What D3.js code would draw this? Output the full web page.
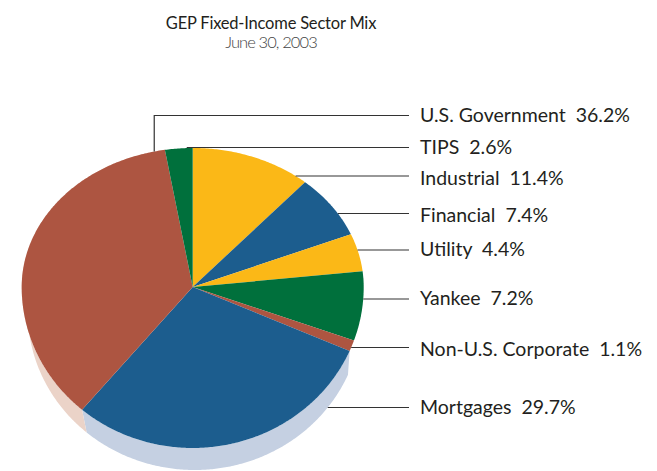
<!DOCTYPE html>
<html>
<head>
<meta charset="utf-8">
<script src="https://cdn.jsdelivr.net/npm/d3@7"></script>
<style>
  body { margin: 0; background: #fff; }
  text { white-space: pre; }
</style>
</head>
<body>
<div id="chart"></div>
<script>
// sector mix, clockwise from 12 o'clock
const sectors = ["Industrial", "Financial", "Utility", "Yankee", "Non-U.S. Corporate", "Mortgages", "U.S. Government", "TIPS"];
const shares  = [11.4, 7.4, 4.4, 7.2, 1.1, 29.7, 36.2, 2.6];
const topColors  = ["#fbb817", "#1c5d8e", "#fbb817", "#00703c", "#ad5541", "#1c5d8e", "#ad5541", "#00703c"];
const sideColors = ["#fde3a3", "#c5d0e2", "#fde3a3", "#b3d4c4", "#ebd3c8", "#c5d0e2", "#ebd3c8", "#b3d4c4"];
// legend order and leader line rows
const legendOrder = ["U.S. Government", "TIPS", "Industrial", "Financial", "Utility", "Yankee", "Non-U.S. Corporate", "Mortgages"];
const lineYs = [115.5, 147.5, 176, 213.5, 250, 299, 347.5, 407.5];
const textYs = [122, 153.5, 185, 221.5, 255.5, 304.5, 356, 413.5];

const width = 657, height = 471;
const svg = d3.select("#chart").append("svg")
    .attr("width", width)
    .attr("height", height);

// tilted pie: apex and two half radii (near half drawn taller)
let pie = {cx: 192.7, cy: 287, rx: 171, ryT: 139, ryB: 161};
let base = {cx: 194.7, cy: 312, rx: 167, ryT: 139, ryB: 158};

function pt(e, a) {
  let c = Math.cos(a);
  return [e.cx + e.rx * Math.sin(a), e.cy - c * (c > 0 ? e.ryT : e.ryB)];
}

function arcPts(e, a0, a1) {
  let n = Math.max(2, Math.ceil(Math.abs(a1 - a0) / 0.01));
  return d3.range(n + 1).map(i => pt(e, a0 + (a1 - a0) * i / n));
}

let arcs = d3.pie().sort(null).value(d => d)(shares);
let slices = arcs.map((d, i) => ({name: sectors[i], a0: d.startAngle, a1: d.endAngle, i: i}));

// side band, only where it shows
let sideSet = ["Mortgages", "U.S. Government"];
svg.append("g").selectAll("path")
  .data(slices.filter(d => sideSet.includes(d.name)))
  .join("path")
    .attr("fill", d => sideColors[d.i])
    .attr("d", d => {
      let p = arcPts(pie, d.a0, d.a1).concat(arcPts(base, d.a1, d.a0));
      return "M" + p.map(q => q.join(",")).join("L") + "Z";
    });

svg.append("g").selectAll("path")
  .data(slices)
  .join("path")
    .attr("fill", d => topColors[d.i])
    .attr("d", d => {
      let p = [[pie.cx, pie.cy]].concat(arcPts(pie, d.a0, d.a1));
      return "M" + p.map(q => q.join(",")).join("L") + "Z";
    });

// x of an ellipse's right edge at a given y
function rightEdge(e, y) {
  let dy = y - e.cy;
  let ry = dy < 0 ? e.ryT : e.ryB;
  return e.cx + e.rx * Math.sqrt(Math.max(0, 1 - (dy / ry) * (dy / ry)));
}

let lineEnd = 409;
let textX = 420;
let deg = Math.PI / 180;

let leaders = legendOrder.map((name, k) => {
  let y = lineYs[k];
  if (name === "U.S. Government") {
    let p = pt(pie, 347 * deg);
    return `M${p[0]},${p[1]}V${y}H${lineEnd}`;
  }
  if (name === "TIPS") {
    let p = pt(pie, 358 * deg);
    return `M${p[0]},${y}H${lineEnd}`;
  }
  let x0 = name === "Mortgages" ? rightEdge(base, y) : rightEdge(pie, y);
  return `M${x0},${y}H${lineEnd}`;
});

svg.append("g").selectAll("path")
  .data(leaders)
  .join("path")
    .attr("d", d => d)
    .attr("fill", "none")
    .attr("stroke", "#333")
    .attr("stroke-width", 1.2);

svg.append("g").selectAll("text")
  .data(legendOrder)
  .join("text")
    .attr("x", textX)
    .attr("y", (d, k) => textYs[k])
    .attr("font-family", "Lato, 'Open Sans', sans-serif")
    .attr("font-size", "19.5px")
    .attr("fill", "#231f20")
    .text(d => d + "  " + shares[sectors.indexOf(d)].toFixed(1) + "%");

svg.append("text")
    .attr("x", 271)
    .attr("y", 29)
    .attr("text-anchor", "middle")
    .attr("font-family", "Lato, 'Open Sans', sans-serif")
    .attr("font-size", "16.5px")
    .attr("letter-spacing", "-0.2px")
    .attr("fill", "#231f20")
    .text("GEP Fixed-Income Sector Mix");

svg.append("text")
    .attr("x", 271)
    .attr("y", 47.5)
    .attr("text-anchor", "middle")
    .attr("font-family", "Lato, 'Open Sans', sans-serif")
    .attr("font-weight", 300)
    .attr("font-size", "16.5px")
    .attr("letter-spacing", "-0.9px")
    .attr("fill", "#444")
    .text("June 30, 2003");
</script>
</body>
</html>
